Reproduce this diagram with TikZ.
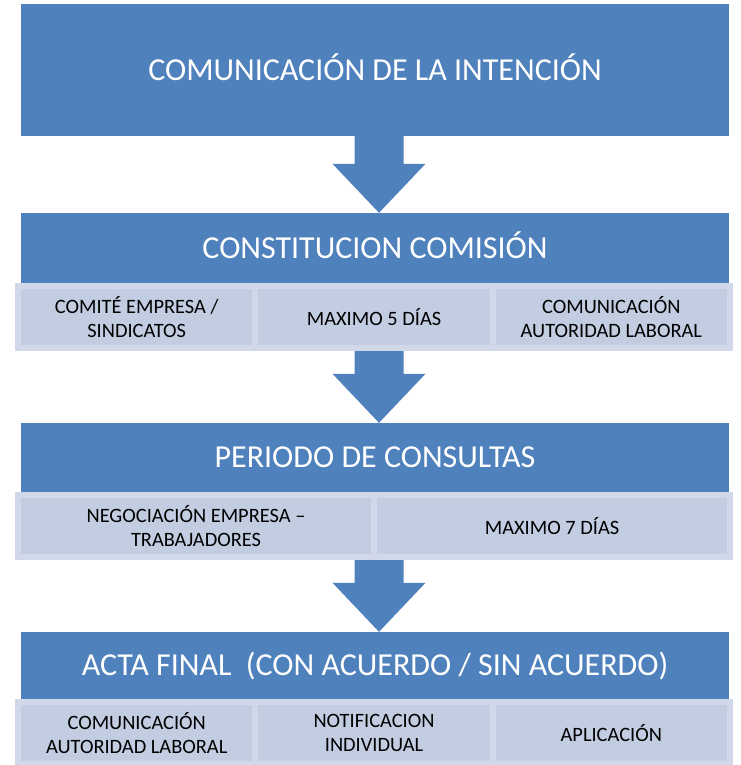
\documentclass[tikz,border=0pt]{standalone}
\usepackage{fontspec}
\setmainfont{Carlito}
\usetikzlibrary{calc}
\definecolor{hdrblue}{HTML}{4F81BD}
\definecolor{subfill}{HTML}{C2CDE2}
\definecolor{subline}{HTML}{D0D8E9}
\tikzset{
  hdr/.style={rectangle, fill=hdrblue, text=white, inner sep=0pt,
    minimum width=708pt, text height=20.6pt, text depth=0pt,
    font=\fontsize{32}{38}\selectfont},
  subbox/.style={rectangle, fill=subfill, draw=subline, line width=6pt,
    inner sep=0pt, minimum height=62pt, align=center, text=black,
    font=\fontsize{20.4}{24}\selectfont},
  blockarrow/.style={fill=hdrblue},
}
\begin{document}
\begin{tikzpicture}[x=1pt,y=-1pt]
\useasboundingbox (0,0) rectangle (740,765);
\fill[white] (0,0) rectangle (740,765);
\coordinate (ax) at (379,0);
% headers
\node[hdr, minimum height=132pt] (h1) at (375,70) {COMUNICACIÓN DE LA INTENCIÓN};
\node[hdr, minimum height=70pt] (h2) at (375,248) {CONSTITUCION COMISIÓN};
\node[hdr, minimum height=69pt] (h3) at (375,457.5) {PERIODO DE CONSULTAS};
\node[hdr, minimum height=67pt] (h4) at (375,665.5) {ACTA FINAL\ \ (CON ACUERDO / SIN ACUERDO)};
% row 1
\node[subbox, minimum width=237.3pt] (s1a) at (136.7,317) {COMITÉ EMPRESA /\\SINDICATOS};
\node[subbox, minimum width=237.3pt] (s1b) at (374,317) {MAXIMO 5 DÍAS};
\node[subbox, minimum width=237.3pt] (s1c) at (611.3,317) {COMUNICACIÓN\\AUTORIDAD LABORAL};
% row 2
\node[subbox, minimum width=356pt] (s2a) at (196,526) {NEGOCIACIÓN EMPRESA –\\TRABAJADORES};
\node[subbox, minimum width=356pt] (s2b) at (552,526) {MAXIMO 7 DÍAS};
% row 3
\node[subbox, minimum width=237.3pt] (s3a) at (136.7,733) {COMUNICACIÓN\\AUTORIDAD LABORAL};
\node[subbox, minimum width=237.3pt] (s3b) at (374,733) {NOTIFICACION\\INDIVIDUAL};
\node[subbox, minimum width=237.3pt] (s3c) at (611.3,733) {APLICACIÓN};
% block arrows
\foreach \from/\to in {h1/h2, s1b/h3, s2b/h4}{
  \fill[blockarrow]
    ($(ax |- \from.south)+(-24.5,0)$) --
    ($(ax |- \to.north)+(-24.5,-49)$) --
    ($(ax |- \to.north)+(-46.5,-49)$) --
    (ax |- \to.north) --
    ($(ax |- \to.north)+(46.5,-49)$) --
    ($(ax |- \to.north)+(24.5,-49)$) --
    ($(ax |- \from.south)+(24.5,0)$) -- cycle;
}
\end{tikzpicture}
\end{document}
